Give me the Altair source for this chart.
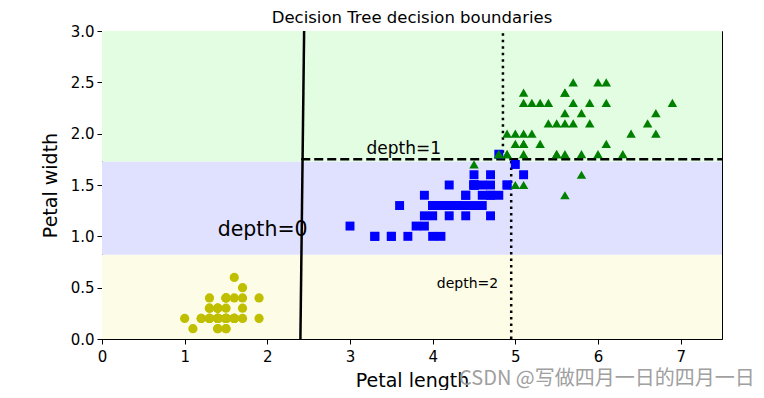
import altair as alt
import pandas as pd

# Iris petal measurements (length, width)
setosa_len = [1.4,1.4,1.3,1.5,1.4,1.7,1.4,1.5,1.4,1.5,1.5,1.6,1.4,1.1,1.2,1.5,1.3,1.4,1.7,1.5,
              1.7,1.5,1.0,1.7,1.9,1.6,1.6,1.5,1.4,1.6,1.6,1.5,1.5,1.4,1.5,1.2,1.3,1.4,1.3,1.5,
              1.3,1.3,1.3,1.6,1.9,1.4,1.6,1.4,1.5,1.4]
setosa_wid = [0.2,0.2,0.2,0.2,0.2,0.4,0.3,0.2,0.2,0.1,0.2,0.2,0.1,0.1,0.2,0.4,0.4,0.3,0.3,0.3,
              0.2,0.4,0.2,0.5,0.2,0.2,0.4,0.2,0.2,0.2,0.2,0.4,0.1,0.2,0.2,0.2,0.2,0.1,0.2,0.2,
              0.3,0.3,0.2,0.6,0.4,0.3,0.2,0.2,0.2,0.2]
versi_len = [4.7,4.5,4.9,4.0,4.6,4.5,4.7,3.3,4.6,3.9,3.5,4.2,4.0,4.7,3.6,4.4,4.5,4.1,4.5,3.9,
             4.8,4.0,4.9,4.7,4.3,4.4,4.8,5.0,4.5,3.5,3.8,3.7,3.9,5.1,4.5,4.5,4.7,4.4,4.1,4.0,
             4.4,4.6,4.0,3.3,4.2,4.2,4.2,4.3,3.0,4.1]
versi_wid = [1.4,1.5,1.5,1.3,1.5,1.3,1.6,1.0,1.3,1.4,1.0,1.5,1.0,1.4,1.3,1.4,1.5,1.0,1.5,1.1,
             1.8,1.3,1.5,1.2,1.3,1.4,1.4,1.7,1.5,1.0,1.1,1.0,1.2,1.6,1.5,1.6,1.5,1.3,1.3,1.3,
             1.2,1.4,1.2,1.0,1.3,1.2,1.3,1.3,1.1,1.3]
virg_len = [6.0,5.1,5.9,5.6,5.8,6.6,4.5,6.3,5.8,6.1,5.1,5.3,5.5,5.0,5.1,5.3,5.5,6.7,6.9,5.0,
            5.7,4.9,6.7,4.9,5.7,6.0,4.8,4.9,5.6,5.8,6.1,6.4,5.6,5.1,5.6,6.1,5.6,5.5,4.8,5.4,
            5.6,5.1,5.1,5.9,5.7,5.2,5.0,5.2,5.4,5.1]
virg_wid = [2.5,1.9,2.1,1.8,2.2,2.1,1.7,1.8,1.8,2.5,2.0,1.9,2.1,2.0,2.4,2.3,1.8,2.2,2.3,1.5,
            2.3,2.0,2.0,1.8,2.1,1.8,1.8,1.8,2.1,1.6,1.9,2.0,2.2,1.5,1.4,2.3,2.4,1.8,1.8,2.1,
            2.4,2.3,1.9,2.3,2.5,2.3,1.9,2.0,2.3,1.8]

# decision regions (background)
region_y0 = [0.0, 0.82, 1.73]
region_y1 = [0.82, 1.73, 3.0]
region_col = ["#fdfde7", "#e0e0ff", "#e2fde2"]

# boundaries
solid_x = [2.40, 2.445]
solid_y = [0.0, 3.0]
dash_x = [2.41, 7.5]
dash_y = [1.75, 1.75]
dot1_x = [4.85, 4.85]
dot1_y = [1.75, 3.0]
dot2_x = [4.95, 4.95]
dot2_y = [0.0, 1.75]

labels = ["depth=0", "depth=1", "depth=2"]
label_x = [1.40, 3.2, 4.05]
label_y = [1.0, 1.80, 0.5]
label_size = [20.5, 17, 14]

title_text = "Decision Tree decision boundaries"
watermark = "CSDN @写做四月一日的四月一日"

FONT = "DejaVu Sans"
xs = alt.Scale(domain=[0, 7.5], nice=False, zero=False)
ys = alt.Scale(domain=[0, 3], nice=False, zero=False)

common = dict(labelFontSize=15, titleFontSize=19, labelFont=FONT, titleFont=FONT,
              titleFontWeight="normal", tickSize=5, tickColor="black", tickWidth=1,
              domainColor="black", labelColor="black", titleColor="black",
              grid=False, labelFlush=False, labelOverlap=False)

reg = pd.DataFrame({"x0": [0.0]*3, "x1": [7.5]*3, "y0": region_y0, "y1": region_y1, "c": region_col})
bg = alt.Chart(reg).mark_rect(strokeWidth=0).encode(
    x=alt.X("x0:Q", scale=xs, axis=alt.Axis(values=list(range(8)), format="d", title="Petal length",
                                             titlePadding=7, labelPadding=5, **common)),
    x2="x1:Q",
    y=alt.Y("y0:Q", scale=ys, axis=alt.Axis(values=[0, 0.5, 1, 1.5, 2, 2.5, 3], format=".1f", title="Petal width",
                                             titlePadding=10, labelPadding=3, **common)),
    y2="y1:Q",
    color=alt.Color("c:N", scale=None),
)

def pts(lx, ly, shape, color, size):
    df = pd.DataFrame({"x": lx, "y": ly})
    return alt.Chart(df).mark_point(shape=shape, filled=True, color=color, opacity=1, size=size).encode(
        x=alt.X("x:Q", scale=xs), y=alt.Y("y:Q", scale=ys))

def line(lx, ly, dash=None):
    df = pd.DataFrame({"x": lx, "y": ly})
    kw = dict(color="black", strokeWidth=2.5, strokeCap="butt")
    if dash:
        kw["strokeDash"] = dash
    return alt.Chart(df).mark_line(**kw).encode(x=alt.X("x:Q", scale=xs), y=alt.Y("y:Q", scale=ys))

txt_layers = []
for t, tx, ty, s in zip(labels, label_x, label_y, label_size):
    d = pd.DataFrame({"x": [tx], "y": [ty], "t": [t]})
    txt_layers.append(alt.Chart(d).mark_text(align="left", baseline="alphabetic", font=FONT, fontSize=s,
                                             color="black").encode(
        x=alt.X("x:Q", scale=xs), y=alt.Y("y:Q", scale=ys), text="t:N"))

title_mark = alt.Chart(pd.DataFrame({"t": [title_text]})).mark_text(
    align="center", baseline="alphabetic", font=FONT, fontSize=16.5, color="black"
).encode(x=alt.value(310), y=alt.value(-8), text="t:N")

wm = alt.Chart(pd.DataFrame({"t": [watermark]})).mark_text(
    align="left", baseline="middle", font="Noto Sans CJK SC", fontSize=20, color="#a0a0a0"
).encode(x=alt.value(357), y=alt.value(348), text="t:N")

chart = alt.layer(
    bg,
    line(solid_x, solid_y),
    line(dash_x, dash_y, [9, 4]),
    line(dot1_x, dot1_y, [2.5, 4]),
    line(dot2_x, dot2_y, [2.5, 4]),
    pts(setosa_len, setosa_wid, "circle", "#bfbf00", 85),
    pts(versi_len, versi_wid, "square", "#0000ff", 80),
    pts(virg_len, virg_wid, "triangle-up", "#008000", 90),
    *txt_layers,
    title_mark,
    wm,
).properties(
    width=620, height=308,
    autosize=alt.AutoSizeParams(type="none"),
    padding={"left": 94, "top": 23, "right": 34, "bottom": 51},
).configure_view(stroke="black", strokeWidth=1)

chart.save("out.html", embed_options={"renderer": "svg", "actions": False})
